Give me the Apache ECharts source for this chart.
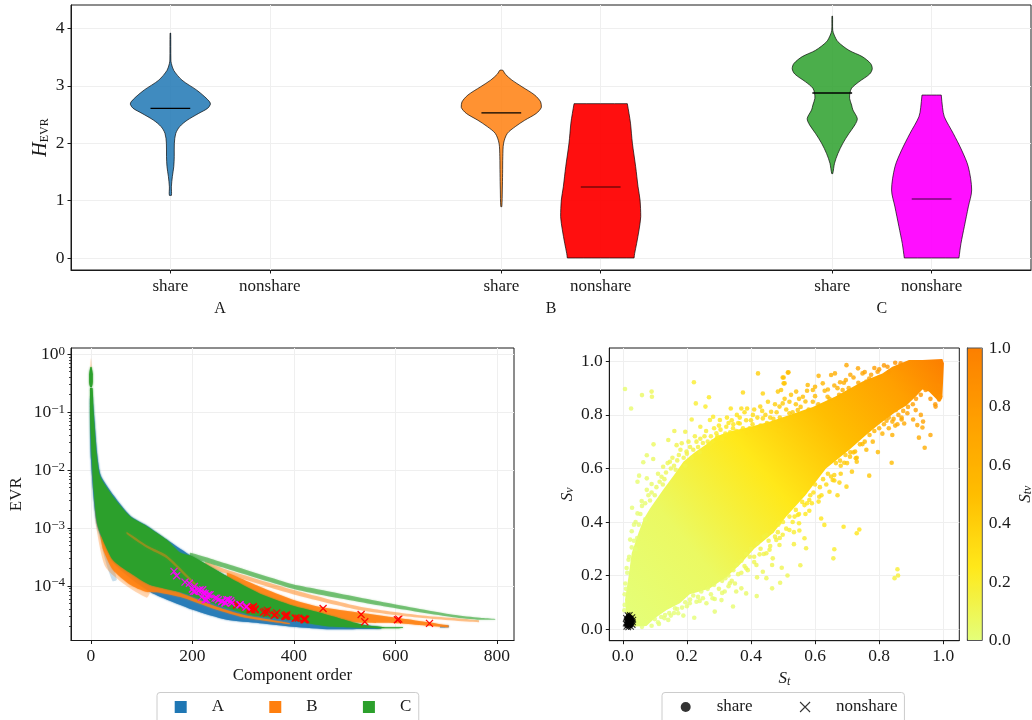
<!DOCTYPE html>
<html><head><meta charset="utf-8">
<style>html,body{margin:0;padding:0;background:#fff}#c{width:1032px;height:720px}</style>
<script src="https://cdn.jsdelivr.net/npm/echarts@6/dist/echarts.min.js"></script>
</head><body><div id="c"></div>
<script>
// ---------- top panel: violins (y value, half width in axis units) ----------
const violinTickPositions = [0, 1, 3.33, 4.33, 6.66, 7.66];
const violinTickLabels = ['share', 'nonshare', 'share', 'nonshare', 'share', 'nonshare'];
const groupPositions = [0.5, 3.83, 7.16];
const groupLabels = ['A', 'B', 'C'];
const hEvrTicks = [0, 1, 2, 3, 4];

const aShareY = [3.92,3.45,3.39,3.27,3.10,2.93,2.81,2.72,2.68,2.61,2.52,2.40,2.29,2.17,2.0,1.765,1.59,1.42,1.24,1.09];
const aShareW = [.003,.005,.01,.034,.117,.262,.346,.396,.403,.376,.285,.168,.094,.054,.04,.039,.034,.02,.01,.01];
const bShareY = [3.275,3.205,3.10,2.985,2.84,2.72,2.625,2.52,2.40,2.29,2.17,2.0,1.765,1.475,1.185,.894];
const bShareW = [.013,.04,.107,.208,.336,.396,.403,.352,.235,.141,.06,.023,.015,.013,.01,.005];
const bNonY = [2.69,2.69,2.52,2.35,2.0,1.59,1.24,1.01,.72,.49,.255,.08,0,0];
const bNonW = [.268,.268,.285,.30,.319,.352,.376,.396,.403,.386,.362,.342,.336,.336];
const cShareY = [4.216,3.97,3.885,3.77,3.62,3.51,3.39,3.30,3.205,3.07,2.96,2.87,2.78,2.665,2.58,2.43,2.32,2.17,2.0,1.82,1.65,1.47];
const cShareW = [.003,.005,.02,.057,.168,.302,.386,.403,.376,.268,.195,.178,.175,.195,.208,.252,.228,.168,.107,.057,.023,.005];
const cNonY = [2.84,2.84,2.62,2.46,2.17,1.88,1.59,1.185,.89,.546,.25,0,0];
const cNonW = [.097,.097,.11,.128,.218,.302,.369,.403,.369,.329,.295,.275,.275];
const medians = [2.607, 2.53, 1.237, 2.875, 1.028];
const violinPos = [0, 3.33, 4.33, 6.66, 7.66];
const violinFill = ['rgba(31,119,180,.85)','rgba(255,127,14,.85)','rgba(255,0,0,.94)','rgba(44,160,44,.85)','rgba(255,0,255,.94)'];
const medianInk = ['#000','#000','#7a0808','#000','#7a087a'];
const violinYs = [aShareY, bShareY, bNonY, cShareY, cNonY];
const violinWs = [aShareW, bShareW, bNonW, cShareW, cNonW];

// ---------- bottom-left panel: bands of curves, [order, EVR] outlines ----------
const orderTicks = [0, 200, 400, 600, 800];
const evrDecades = [1e-4, 1e-3, 1e-2, 1e-1, 1];
const evrMinor = [2e-5,3e-5,4e-5,5e-5,6e-5,7e-5,8e-5,9e-5,2e-4,3e-4,4e-4,5e-4,6e-4,7e-4,8e-4,9e-4,2e-3,3e-3,4e-3,5e-3,6e-3,7e-3,8e-3,9e-3,.02,.03,.04,.05,.06,.07,.08,.09,.2,.3,.4,.5,.6,.7,.8,.9];

const bandA = [[2,.2],[6,.09],[12,.0195],[19,.0082],[45,.0036],[78,.0016],[110,.0011],[150,6.3e-4],[200,3.2e-4],[268,1.47e-4],[333,6.6e-5],[398,3.9e-5],[465,2.62e-5],[570,1.95e-5],[573,1.83e-5],[473,1.8e-5],[398,1.99e-5],[333,2.29e-5],[268,2.62e-5],[201,3.9e-5],[136,6.55e-5],[116,7.97e-5],[77,1.39e-4],[43,2.62e-4],[12,.00114],[0,.0151],[-2,.16]];
const bandAFaint = [[8,.00207],[28,2.84e-4],[43,1.2e-4],[51,1.28e-4],[37,3.47e-4],[14,.00207]];
const bandATip = [[688,2.04e-5],[705,2.11e-5],[706,1.95e-5],[688,1.91e-5]];
const bandBFaint = [[0,.0151],[6,.00406],[10,.0011],[28,2.18e-4],[67,1.05e-4],[110,6.28e-5],[116,7.66e-5],[77,1.57e-4],[43,3.08e-4],[14,.0011],[8,.00406]];
const bandBLower = [[18,7.67e-4],[43,3.47e-4],[77,1.91e-4],[116,1.05e-4],[142,9.7e-5],[181,7.36e-5],[248,4.4e-5],[300,3.2e-5],[392,2.3e-5],[392,2.2e-5],[300,2.9e-5],[248,3.9e-5],[181,6.3e-5],[136,7.66e-5],[108,7.97e-5],[77,1.05e-4],[43,1.91e-4],[24,4.23e-4]];
const bandBUpper = [[268,1.69e-4],[333,9.73e-5],[398,5.81e-5],[450,4.4e-5],[531,3.47e-5],[603,2.84e-5],[705,2.09e-5],[705,1.95e-5],[603,2.29e-5],[531,2.33e-5],[450,2.62e-5],[398,3.6e-5],[333,6.28e-5],[268,1.45e-4]];
const bandBPale = [[225,2.62e-4],[268,1.91e-4],[398,8.63e-5],[531,4.4e-5],[649,3.14e-5],[765,2.57e-5],[765,2.38e-5],[649,2.84e-5],[531,3.83e-5],[398,7.23e-5],[268,1.63e-4],[225,2.24e-4]];
const bandBStreak = [[70,8.63e-4],[110,5.05e-4],[149,3.4e-4],[189,1.57e-4],[209,1.05e-4],[209,9.73e-5],[189,1.39e-4],[149,3.02e-4],[110,4.57e-4],[70,7.98e-4]];
const bandBTop = [[-3,.296],[-1,.7],[0,.85],[1,.7],[3,.296]];
const bandC = [[3,.262],[5,.101],[11,.0184],[18,.00776],[43,.00351],[77,.00158],[110,.00107],[149,6.28e-4],[176,3.75e-4],[201,3.2e-4],[268,1.47e-4],[333,7.36e-5],[398,4.57e-5],[452,3.47e-5],[536,2.15e-5],[580,1.95e-5],[615,1.95e-5],[615,1.89e-5],[576,1.87e-5],[466,2.03e-5],[392,2.62e-5],[314,3.2e-5],[248,4.76e-5],[181,7.66e-5],[116,1.05e-4],[77,1.69e-4],[43,2.84e-4],[14,.00107],[6,.00406],[2,.0151],[-2,.101],[-2,.262]];
const bandCTop = [[-3.5,.45],[-1,.6],[1,.6],[3.5,.45],[3.5,.33],[1.6,.27],[-1.6,.27],[-3.5,.33]];
const bandCPale = [[195,3.75e-4],[268,2.42e-4],[398,1.07e-4],[452,8.63e-5],[583,5.15e-5],[714,3.2e-5],[767,2.84e-5],[797,2.7e-5],[797,2.62e-5],[767,2.62e-5],[714,2.9e-5],[583,4.4e-5],[452,7.08e-5],[398,8.97e-5],[268,1.99e-4],[195,3.2e-4]];

const redCrosses = [[277.5,5.08e-5],[287.3,4.76e-5],[303.8,4.33e-5],[313.6,4.17e-5],[320.2,4.33e-5],[323.5,4.01e-5],[316.9,3.9e-5],[339.9,3.51e-5],[347.8,3.8e-5],[366.2,3.42e-5],[361,3.12e-5],[382.7,2.99e-5],[386,3.2e-5],[402.4,2.8e-5],[409,2.8e-5],[420.1,2.62e-5],[423.4,2.69e-5],[457.6,4.11e-5],[532.6,3.24e-5],[539.8,2.42e-5],[604.2,2.62e-5],[606.9,2.69e-5],[667.4,2.27e-5],[316.9,4.17e-5],[320,4.46e-5],[313.7,3.9e-5],[323.5,3.9e-5],[343.2,3.66e-5],[346.5,3.42e-5],[287.3,4.76e-5],[363,3.2e-5],[382.7,3.12e-5],[386,3e-5],[404.4,2.81e-5],[422,2.62e-5],[420,2.73e-5]];
const magentaCrosses = [[163.7,1.79e-4],[169,1.51e-4],[185.4,1.17e-4],[194,1.12e-4],[199.9,8.9e-5],[205.1,8.07e-5],[203.8,9.86e-5],[211.7,8.4e-5],[220.3,8.63e-5],[224.9,7.36e-5],[231.4,7.08e-5],[218.3,6.45e-5],[228.1,5.81e-5],[244.6,6.2e-5],[251.2,5.81e-5],[257.7,5.43e-5],[267.6,5.81e-5],[275.5,5.58e-5],[264.3,5.22e-5],[293.9,4.76e-5],[305.7,4.33e-5],[201.9,8.09e-5],[215,8.65e-5],[221.6,7.57e-5],[228.2,6.63e-5],[234.8,7.08e-5],[224.9,5.81e-5],[247.9,6.2e-5],[257.8,5.43e-5],[270.9,5.81e-5],[264.3,5.09e-5],[277.5,5.09e-5],[294,4.76e-5],[307,4.46e-5]];

// ---------- bottom-right panel: St, Sv, Stv ----------
const unitTicks = [0, .2, .4, .6, .8, 1];
const cloudOutline = [[.012,.03],[.007,.109],[.018,.196],[.028,.284],[.049,.359],[.065,.41],[.085,.45],[.126,.52],[.16,.575],[.189,.625],[.225,.66],[.261,.69],[.292,.72],[.34,.74],[.396,.755],[.46,.775],[.52,.80],[.593,.83],[.665,.87],[.748,.925],[.81,.955],[.841,.98],[.893,1.005],[.935,1.005],[.997,1.009],[1.002,.993],[.997,.862],[.987,.849],[.955,.887],[.935,.895],[.915,.87],[.885,.835],[.852,.812],[.80,.765],[.759,.725],[.707,.67],[.634,.60],[.57,.50],[.51,.42],[.47,.36],[.41,.30],[.365,.24],[.325,.195],[.27,.15],[.209,.13],[.178,.096],[.137,.071],[.1,.04],[.074,.011],[.038,.009]];
const cloudStops = [[0,'#e4ff7a'],[.25,'#ebf962'],[.5,'#ffe81a'],[.7,'#ffbe01'],[.87,'#ffa000'],[1,'#fc7f00']];
const edgePoints = [
[.007,.897,.03],[.026,.824,.04],[.06,.874,.06],[.09,.887,.08],[.091,.868,.08],[.222,.922,.2],[.228,.843,.19],[.269,.866,.23],[.258,.831,.21],[.215,.783,.17],[.161,.74,.12],[.195,.737,.14],[.142,.706,.1],[.096,.69,.07],[.075,.649,.05],[.064,.623,.04],[.095,.635,.06],[.051,.573,.03],[.046,.55,.03],[.075,.563,.04],[.029,.453,.02],[.046,.432,.02],[.059,.478,.03],[.09,.542,.05],[.121,.569,.07],[.126,.606,.08],[.147,.625,.09],[.168,.687,.12],[.184,.694,.13],[.199,.663,.13],[.23,.7,.16],[.242,.711,.17],[.242,.756,.18],[.272,.781,.21],[.282,.793,.22],[.303,.781,.24],[.337,.824,.28],[.356,.8,.28],[.37,.824,.3],[.388,.824,.32],[.375,.884,.33],[.422,.955,.4],[.406,.8,.32],[.429,.831,.36],[.437,.88,.38],[.453,.849,.38],[.437,.787,.34],[.463,.812,.38],[.484,.887,.43],[.499,.94,.47],[.515,.958,.49],[.494,.893,.44],[.505,.918,.46],[.499,.843,.42],[.323,.756,.24],[.344,.75,.26],[.292,.731,.21],[.313,.719,.23],[.365,.768,.28],[.396,.75,.3],[.458,.756,.35],[.499,.781,.39],[.489,.743,.36],[.52,.806,.42],
[.517,.959,.5],[.502,.94,.47],[.502,.918,.46],[.541,.887,.48],[.577,.912,.53],[.611,.946,.58],[.65,.949,.62],[.662,.955,.63],[.698,.986,.69],[.734,.974,.71],[.678,.922,.63],[.696,.93,.65],[.624,.918,.57],[.593,.893,.53],[.562,.868,.49],[.52,.849,.44],[.489,.831,.41],[.546,.818,.45],[.593,.849,.5],[.639,.868,.55],[.686,.893,.61],[.748,.955,.71],[.769,.936,.72],[.795,.961,.76],[.826,.98,.81],[.867,.993,.86],
[.945,.893,.84],[.976,.831,.81],[.987,.858,.85],[.914,.818,.75],[.93,.8,.74],[.937,.775,.73],[.935,.753,.7],[.919,.762,.7],[.906,.783,.71],[.878,.768,.67],[.87,.783,.68],[.857,.765,.66],[.841,.775,.65],[.823,.778,.64],[.888,.806,.72],[.852,.818,.7],[.841,.725,.61],[.924,.715,.66],[.96,.725,.7],[.942,.677,.64],[.796,.661,.53],[.839,.621,.52],[.769,.573,.44],[.715,.588,.42],[.748,.691,.52],[.725,.663,.48],[.727,.638,.46],[.709,.644,.46],[.73,.625,.46],[.678,.629,.43],[.691,.621,.43],[.66,.575,.38],[.655,.557,.36],[.676,.547,.37],[.698,.532,.37],[.645,.513,.33],[.67,.5,.34],[.613,.494,.3],[.611,.476,.29],[.562,.507,.28],[.582,.482,.28],[.582,.442,.26],[.567,.463,.26],[.546,.426,.23],[.536,.42,.23],[.619,.413,.26],[.629,.389,.25],[.689,.382,.26],[.738,.372,.27],[.489,.397,.19],
[.66,.298,.2],[.657,.264,.17],[.857,.223,.19],[.859,.2,.17],[.848,.19,.16],[.73,.358,.26],[.572,.302,.17],[.567,.339,.19],[.551,.368,.2],[.534,.362,.19],[.534,.317,.17],[.499,.352,.18],[.484,.362,.18],[.489,.314,.15],[.479,.333,.16],[.458,.296,.14],[.448,.283,.13],[.468,.264,.12],[.466,.239,.11],[.496,.229,.11],[.554,.238,.13],[.514,.2,.1],[.448,.19,.09],[.491,.173,.08],[.466,.152,.07],[.419,.193,.08],[.437,.214,.09],[.417,.239,.1],[.427,.279,.12],[.396,.27,.11],[.385,.227,.09],[.37,.152,.06],[.385,.133,.05],[.418,.123,.05],[.354,.14,.05],[.344,.084,.03],[.334,.171,.06],[.318,.14,.04],[.308,.108,.03],[.287,.065,.02],[.287,.112,.03],[.261,.096,.03],[.223,.042,.01],[.23,.102,.02],[.209,.096,.02],[.189,.05,.01],[.173,.059,.01],[.163,.077,.01],[.142,.034,.01],[.113,.019,.01],[.1,.037,.01],[.132,.052,.01],[.448,.352,.16],
[.028,.365,.01],[.023,.334,.01],[.028,.305,.01],[.018,.259,.01],[.012,.228,.01],[.008,.17,.01],[.006,.13,.01],[.07,.41,.03],[.05,.39,.02]];
const upperRimPoints = [[.04,.40,.02],[.055,.43,.02],[.07,.47,.03],[.08,.50,.04],[.10,.50,.05],[.105,.53,.06],[.115,.55,.06],[.13,.56,.07],[.135,.585,.08],[.15,.60,.09],[.16,.61,.1],[.17,.63,.11],[.175,.65,.11],[.19,.64,.12],[.20,.655,.13],[.21,.68,.14],[.22,.67,.15],[.235,.68,.16],[.25,.695,.17],[.255,.72,.18],[.265,.70,.19],[.275,.72,.2],[.285,.75,.21],[.295,.72,.21],[.305,.745,.23],[.32,.73,.23],[.33,.77,.25],[.335,.735,.25],[.345,.765,.26],[.355,.74,.26],[.365,.79,.29],[.375,.75,.28],[.385,.78,.3],[.39,.735,.29],[.405,.765,.31],[.415,.745,.31],[.42,.79,.33],[.43,.76,.33],[.445,.80,.36],[.45,.77,.35],[.47,.785,.37],[.48,.81,.39],[.49,.79,.39],[.51,.82,.42],[.53,.81,.43],[.54,.84,.45],[.555,.83,.46],[.57,.85,.48],[.58,.82,.48],[.60,.87,.52],[.61,.84,.51],[.63,.89,.56],[.645,.86,.55],[.66,.91,.6],[.675,.875,.59],[.69,.92,.63],[.705,.90,.63],[.72,.94,.68],[.735,.92,.68],[.755,.96,.72],[.775,.95,.74],[.785,.975,.77],[.80,.94,.75],[.815,.985,.8],[.83,.96,.8],[.85,.995,.85],[.87,.975,.85],
[.06,.46,.03],[.075,.52,.04],[.09,.51,.05],[.085,.48,.04],[.11,.58,.06],[.125,.54,.07],[.14,.62,.09],[.155,.64,.1],[.165,.595,.1],[.18,.67,.12],[.195,.61,.12],[.205,.70,.14],[.215,.64,.14],[.225,.72,.16],[.24,.66,.16],[.26,.74,.19],[.27,.69,.19],[.28,.70,.2],[.30,.76,.23],[.31,.71,.22],[.325,.79,.26],[.34,.78,.27],[.36,.77,.28],[.38,.81,.31],[.40,.78,.31],[.41,.82,.34],[.435,.815,.35],[.46,.79,.36],[.475,.84,.4],[.505,.86,.43],[.525,.875,.46],[.55,.86,.47],[.575,.89,.51],[.6,.905,.54],[.64,.895,.57],[.67,.9,.6],[.71,.95,.67],[.76,.925,.7],[.80,.97,.78],
[.005,.07,.0],[.006,.09,.0],[.01,.15,.0],[.014,.21,.0],[.02,.27,.01],[.035,.33,.01],[.035,.39,.01],[.045,.34,.02],[.04,.30,.01]];
const lowerRimPoints = [[.06,.008,.0],[.09,.012,.0],[.11,.025,.0],[.12,.045,.01],[.13,.04,.01],[.145,.06,.01],[.16,.06,.01],[.17,.075,.01],[.185,.08,.01],[.195,.10,.02],[.21,.11,.02],[.22,.125,.03],[.235,.12,.03],[.245,.14,.03],[.25,.115,.03],[.265,.15,.04],[.275,.13,.04],[.285,.165,.05],[.30,.15,.05],[.31,.18,.06],[.32,.19,.06],[.33,.20,.07],[.34,.18,.06],[.345,.22,.08],[.355,.24,.09],[.36,.205,.07],[.37,.255,.09],[.38,.235,.09],[.385,.28,.11],[.40,.30,.12],[.41,.27,.11],[.42,.32,.13],[.43,.30,.13],[.44,.345,.15],[.455,.33,.15],[.465,.365,.17],[.475,.345,.16],[.485,.39,.19],[.50,.40,.2],[.51,.375,.19],[.52,.42,.22],[.53,.40,.21],[.54,.445,.24],[.55,.43,.24],[.56,.475,.27],[.575,.47,.27],[.585,.50,.29],[.60,.54,.32],[.595,.51,.3],[.615,.53,.33],[.625,.56,.35],[.64,.58,.37],[.65,.57,.37],[.665,.62,.41],[.68,.61,.41],[.695,.65,.45],[.71,.66,.47],[.72,.66,.48],[.74,.69,.51],[.755,.70,.53],[.77,.725,.56],[.785,.74,.58],[.80,.75,.6],[.815,.765,.62],[.83,.79,.66],[.845,.785,.66],[.86,.80,.69],[.875,.815,.71],[.89,.83,.74],[.905,.84,.76],[.915,.86,.79],[.93,.875,.81],[.96,.86,.83],[.975,.84,.82],[.99,.87,.86],[.985,.91,.9],
[.15,.05,.01],[.20,.085,.02],[.24,.105,.03],[.28,.115,.03],[.31,.135,.04],[.33,.16,.05],[.35,.17,.06],[.37,.21,.08],[.39,.22,.09],[.41,.25,.1],[.44,.28,.12],[.46,.31,.14],[.49,.34,.17],[.52,.37,.19],[.55,.395,.22],[.57,.43,.25],[.59,.47,.28],[.62,.50,.31],[.635,.54,.34],[.66,.555,.37],[.68,.58,.39],[.70,.62,.43],[.73,.64,.47],[.76,.67,.51],[.78,.70,.55],[.81,.73,.59],[.83,.75,.62],[.85,.76,.65],[.87,.79,.69]];
const sharePoints = [[.012,.012],[.015,.02],[.018,.028],[.014,.034],[.02,.04],[.024,.045],[.016,.046],[.022,.018],[.026,.024],[.028,.032],[.012,.025],[.019,.015],[.024,.036],[.03,.028],[.016,.04],[.021,.03],[.026,.016],[.014,.02],[.018,.05],[.023,.01],[.011,.038],[.027,.04]];
const nonsharePoints = [[.011,.008],[.017,.006],[.026,.008],[.031,.015],[.032,.025],[.009,.02],[.01,.042],[.015,.052],[.022,.053],[.03,.044],[.033,.035],[.02,.024]];

// ---------- assembling ----------
const SERIF = '"Liberation Serif","Times New Roman",serif';
const INK = '#1a1a1a';
const GRIDLINE = '#efefef';
const CROSS = 'path://M0 0L10 10M10 0L0 10';
const tickLabel = {fontFamily: SERIF, fontSize: 17.5, color: INK};
const nameRich = {
  i: {fontFamily: SERIF, fontSize: 17, fontStyle: 'italic', color: INK, lineHeight: 18},
  ib: {fontFamily: SERIF, fontSize: 20, fontStyle: 'italic', color: INK, lineHeight: 20},
  s: {fontFamily: SERIF, fontSize: 12, color: INK, verticalAlign: 'bottom', lineHeight: 10},
  si: {fontFamily: SERIF, fontSize: 12, fontStyle: 'italic', color: INK, verticalAlign: 'bottom', lineHeight: 9}
};
const pow10Label = {
  b: {fontFamily: SERIF, fontSize: 17.5, color: INK, lineHeight: 19},
  s: {fontFamily: SERIF, fontSize: 13, color: INK, verticalAlign: 'top', lineHeight: 12}
};
const axisTickStyle = {lineStyle: {color: INK, width: 1}, length: 3.5, inside: false};

function valueAxis(gridIndex, min, max, ticks, fmt, extra) {
  return Object.assign({
    type: 'value', gridIndex, min, max, scale: true,
    axisLine: {show: true, onZero: false, lineStyle: {color: INK, width: 1}},
    axisTick: Object.assign({show: true, customValues: ticks}, axisTickStyle),
    axisLabel: Object.assign({show: true, customValues: ticks, formatter: fmt, margin: 6.5, hideOverlap: false, showMinLabel: true, showMaxLabel: true}, tickLabel),
    splitLine: {show: true, lineStyle: {color: GRIDLINE, width: 1}},
    minorTick: {show: false}
  }, extra || {});
}

function polygonSeries(name, polys, fills, xAxisIndex, yAxisIndex, z, legendColor) {
  return {
    type: 'custom', name, coordinateSystem: 'cartesian2d', xAxisIndex, yAxisIndex, z,
    clip: true, silent: true,
    itemStyle: {color: legendColor},
    encode: {x: 0, y: 1},
    data: polys.map(p => p[0]),
    renderItem(params, api) {
      const i = params.dataIndex;
      const pts = polys[i].map(q => api.coord(q));
      return {
        type: 'polygon',
        shape: {points: pts, smooth: 0.22, smoothConstraint: [pts[0], pts[0]]},
        style: {fill: fills[i], stroke: null, shadowBlur: 2, shadowColor: fills[i]}
      };
    }
  };
}

const gridCommon = {show: true, borderColor: INK, borderWidth: 1, backgroundColor: 'transparent', outerBoundsMode: 'none', containLabel: false};
const option = {
  animation: false,
  backgroundColor: '#fff',
  textStyle: {fontFamily: SERIF},
  grid: [
    Object.assign({left: 71, top: 5, width: 960, height: 265}, gridCommon),
    Object.assign({left: 71, top: 348, width: 443, height: 292.5}, gridCommon),
    Object.assign({left: 609.3, top: 348, width: 350, height: 292.7}, gridCommon),
    Object.assign({left: 967.3, top: 348, width: 15, height: 292.5, z: 6}, gridCommon, {borderColor: '#555'})
  ],
  xAxis: [
    valueAxis(0, -1, 8.66, violinTickPositions, v => violinTickLabels[violinTickPositions.indexOf(v)] || '', {position: 'bottom',
      axisLabel: Object.assign({show: true, customValues: violinTickPositions, formatter: v => violinTickLabels[violinTickPositions.indexOf(v)] || '', margin: 8.5, hideOverlap: false}, tickLabel, {fontSize: 17})}),
    valueAxis(0, -1, 8.66, groupPositions, v => groupLabels[groupPositions.indexOf(v)] || '', {
      position: 'bottom',
      axisLine: {show: false}, axisTick: {show: false, customValues: groupPositions}, splitLine: {show: false},
      axisLabel: Object.assign({show: true, customValues: groupPositions, formatter: v => groupLabels[groupPositions.indexOf(v)] || '', margin: 31}, tickLabel, {fontSize: 16})
    }),
    valueAxis(1, -39.4, 834, orderTicks, v => String(v), {
      position: 'bottom',
      name: 'Component order', nameLocation: 'middle', nameGap: 27,
      nameTextStyle: {fontFamily: SERIF, fontSize: 17, color: INK}
    }),
    valueAxis(2, -.042, 1.05, unitTicks, v => v.toFixed(1), {
      position: 'bottom',
      name: '{i|S}{si|t}', nameLocation: 'middle', nameGap: 29,
      nameTextStyle: {rich: nameRich}
    }),
    {type: 'value', gridIndex: 3, min: 0, max: 1, show: false}
  ],
  yAxis: [
    valueAxis(0, -.21, 4.41, hEvrTicks, v => String(v), {
      position: 'left',
      name: '{ib|H}{s|EVR}', nameLocation: 'middle', nameGap: 20, nameRotate: 90, nameMoveOverlap: false,
      nameTextStyle: {rich: nameRich}
    }),
    {
      type: 'log', gridIndex: 1, logBase: 10, min: 1.15e-5, max: 1.28, position: 'left',
      axisLine: {show: true, onZero: false, lineStyle: {color: INK, width: 1}},
      axisTick: Object.assign({show: true, customValues: evrDecades}, axisTickStyle),
      axisLabel: Object.assign({show: true, customValues: evrDecades, margin: 6, hideOverlap: false,
        formatter: v => { const e = Math.round(Math.log10(v)); return '{b|10}{s|' + (e < 0 ? '\u2212' + (-e) : e) + '}'; },
        rich: pow10Label}, tickLabel),
      splitLine: {show: true, lineStyle: {color: GRIDLINE, width: 1}},
      minorTick: {show: false},
      name: 'EVR', nameLocation: 'middle', nameGap: 46, nameRotate: 90,
      nameTextStyle: {fontFamily: SERIF, fontSize: 17, color: INK}
    },
    {
      type: 'log', gridIndex: 1, logBase: 10, min: 1.15e-5, max: 1.28, position: 'left',
      axisLine: {show: false, onZero: false},
      axisTick: {show: true, customValues: evrMinor, length: 2, lineStyle: {color: INK, width: .8}},
      axisLabel: {show: false}, splitLine: {show: false}, minorTick: {show: false}
    },
    valueAxis(2, -.0437, 1.05, unitTicks, v => v.toFixed(1), {
      position: 'left',
      name: '{i|S}{si|v}', nameLocation: 'middle', nameGap: 33, nameRotate: 90,
      nameTextStyle: {rich: nameRich}
    }),
    valueAxis(3, 0, 1, unitTicks, v => v.toFixed(1), {
      position: 'right', splitLine: {show: false},
      name: '{i|S}{si|tv}', nameLocation: 'middle', nameGap: 34, nameRotate: 90,
      nameTextStyle: {rich: nameRich},
      axisLine: {show: true, lineStyle: {color: INK, width: 1}}
    })
  ],
  visualMap: {
    type: 'continuous', show: true, seriesIndex: [11, 12, 13], dimension: 2, min: 0, max: 1,
    left: 967.3, top: 348, itemWidth: 15, itemHeight: 292.5, padding: 0, calculable: false, showLabel: false,
    inRange: {color: ['#e4ff7a', '#ffe81a', '#ffbd00', '#ffa000', '#fc7f00']}
  },
  legend: [
    {
      left: 157, top: 692.5, orient: 'horizontal', padding: [6, 7.5, 14, 17.7], itemGap: 45.3, itemWidth: 12, itemHeight: 12,
      borderColor: '#ccc', borderWidth: 1, borderRadius: 3,
      textStyle: {fontFamily: SERIF, fontSize: 17, color: INK, padding: [0, 0, 0, 20]},
      data: [
        {name: 'A', icon: 'rect', itemStyle: {color: '#1f77b4', opacity: 1}},
        {name: 'B', icon: 'rect', itemStyle: {color: '#ff7f0e', opacity: 1}},
        {name: 'C', icon: 'rect', itemStyle: {color: '#2ca02c', opacity: 1}}
      ]
    },
    {
      left: 662, top: 692.5, orient: 'horizontal', padding: [6, 7, 14, 18.7], itemGap: 45, itemWidth: 10, itemHeight: 10,
      borderColor: '#ccc', borderWidth: 1, borderRadius: 3,
      textStyle: {fontFamily: SERIF, fontSize: 17, color: INK, padding: [0, 0, 0, 21]},
      data: [
        {name: 'share', icon: 'circle', itemStyle: {color: '#000'}},
        {name: 'nonshare', icon: CROSS, itemStyle: {color: 'none', borderColor: '#000', borderWidth: 1.1}}
      ]
    }
  ],
  series: [
    // 0: violins
    {
      type: 'custom', name: 'violins', coordinateSystem: 'cartesian2d', xAxisIndex: 0, yAxisIndex: 0, z: 3, silent: true,
      encode: {x: 0, y: 1},
      data: violinPos.map((p, i) => [p, medians[i]]),
      renderItem(params, api) {
        const i = params.dataIndex, p = violinPos[i], ys = violinYs[i], ws = violinWs[i];
        const right = ys.map((y, k) => api.coord([p + ws[k], y]));
        const left = ys.map((y, k) => api.coord([p - ws[k], y])).reverse();
        const a = api.coord([p - .2, medians[i]]), b = api.coord([p + .2, medians[i]]);
        const pts = right.concat(left);
        return {type: 'group', children: [
          {type: 'polygon', shape: {points: pts, smooth: 0.3, smoothConstraint: [pts[0], pts[0]]},
           style: {fill: violinFill[i], stroke: 'rgba(0,0,0,.75)', lineWidth: .9}},
          {type: 'line', shape: {x1: a[0], y1: a[1], x2: b[0], y2: b[1]},
           style: {stroke: medianInk[i], lineWidth: 1.4}}
        ]};
      }
    },
    // 1-3: A
    polygonSeries('A', [bandA], ['#2a7db8'], 2, 1, 3, '#1f77b4'),
    polygonSeries('A', [bandAFaint], ['rgba(31,119,180,.22)'], 2, 1, 3, '#1f77b4'),
    polygonSeries('A', [bandATip], ['rgba(31,119,180,.6)'], 2, 1, 3, '#1f77b4'),
    // 4: B under C
    polygonSeries('B', [bandBFaint, bandBTop, bandBPale, bandBLower, bandBUpper],
      ['rgba(255,127,14,.28)', 'rgba(255,127,14,.3)', 'rgba(255,127,14,.42)', 'rgba(255,127,14,.8)', 'rgba(255,127,14,.82)'], 2, 1, 4, '#ff7f0e'),
    // 5-6: C
    polygonSeries('C', [bandCPale], ['rgba(44,160,44,.55)'], 2, 1, 4, '#2ca02c'),
    polygonSeries('C', [bandC, bandCTop], ['#2ca02c', '#2ca02c'], 2, 1, 5, '#2ca02c'),
    // 7: streak of B lying over C
    polygonSeries('B', [bandBStreak], ['rgba(255,127,14,.4)'], 2, 1, 6, '#ff7f0e'),
    // 8-9: crosses
    {type: 'scatter', name: 'nonshare EVR', xAxisIndex: 2, yAxisIndex: 1, z: 7, symbol: CROSS, symbolSize: 7, silent: true,
     data: redCrosses, itemStyle: {color: 'none', borderColor: '#ff0000', borderWidth: 1.3, opacity: .95}},
    {type: 'scatter', name: 'share EVR', xAxisIndex: 2, yAxisIndex: 1, z: 8, symbol: CROSS, symbolSize: 7, silent: true,
     data: magentaCrosses, itemStyle: {color: 'none', borderColor: '#ff00ff', borderWidth: 1.3, opacity: .95}},
    // 10: dense cloud
    {
      type: 'custom', name: 'cloud', coordinateSystem: 'cartesian2d', xAxisIndex: 3, yAxisIndex: 3, z: 3, silent: true,
      encode: {x: 0, y: 1}, data: [cloudOutline[0]],
      renderItem(params, api) {
        const p0 = api.coord([0, 0]), p1 = api.coord([1, 1]);
        return {type: 'polygon', shape: {points: cloudOutline.map(q => api.coord(q))},
          style: {fill: new echarts.graphic.LinearGradient(p0[0], p0[1], p1[0], p1[1],
            cloudStops.map(s => ({offset: s[0], color: s[1]})), true)}};
      }
    },
    // 11-13: separate points around the cloud
    {type: 'scatter', name: 'outliers', xAxisIndex: 3, yAxisIndex: 3, z: 4, symbol: 'circle', symbolSize: 4.6, silent: true,
     data: edgePoints, encode: {x: 0, y: 1}},
    {type: 'scatter', name: 'upper rim', xAxisIndex: 3, yAxisIndex: 3, z: 4, symbol: 'circle', symbolSize: 4.6, silent: true,
     data: upperRimPoints, encode: {x: 0, y: 1}},
    {type: 'scatter', name: 'lower rim', xAxisIndex: 3, yAxisIndex: 3, z: 4, symbol: 'circle', symbolSize: 4.6, silent: true,
     data: lowerRimPoints, encode: {x: 0, y: 1}},
    // 14-15: black clusters
    {type: 'scatter', name: 'share', xAxisIndex: 3, yAxisIndex: 3, z: 6, symbol: 'circle', symbolSize: 5, silent: true,
     data: sharePoints, itemStyle: {color: '#000'}},
    {type: 'scatter', name: 'nonshare', xAxisIndex: 3, yAxisIndex: 3, z: 6, symbol: CROSS, symbolSize: 5.5, silent: true,
     data: nonsharePoints, itemStyle: {color: 'none', borderColor: '#000', borderWidth: 1.1}},
    // 16: carrier for the colour bar axis
    {type: 'custom', name: 'bar', coordinateSystem: 'cartesian2d', xAxisIndex: 4, yAxisIndex: 4, silent: true,
     encode: {x: 0, y: 1}, data: [[0, 0]], renderItem() { return {type: 'group', children: []}; }}
  ]
};
const chart = echarts.init(document.getElementById('c'), null, {renderer: 'canvas'});
chart.setOption(option);
</script></body></html>
